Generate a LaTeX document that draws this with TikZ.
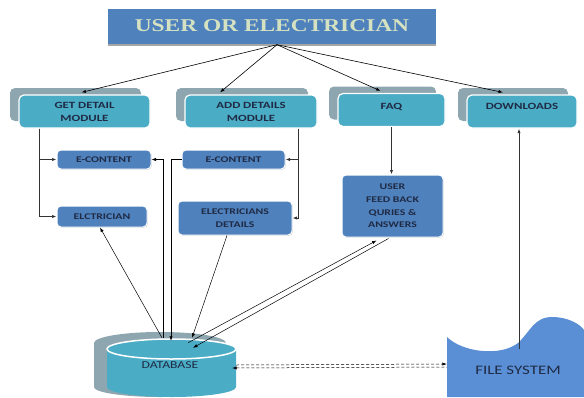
\documentclass[tikz,border=0pt]{standalone}
\usepackage{fontspec}
\setmainfont{Carlito}
\newfontfamily\titlefont[FakeStretch=1.3]{Liberation Serif}
\newfontfamily\boxfont[FakeStretch=1.35]{Carlito}
\usepackage{xcolor}
\usepackage{tikz}
\usetikzlibrary{shadows}
\usetikzlibrary{positioning}
\usetikzlibrary{arrows.meta}
\usetikzlibrary{calc}
\definecolor{topblue}{HTML}{4F81BD}
\definecolor{titlegreen}{HTML}{D5E2C2}
\definecolor{modteal}{HTML}{4BACC6}
\definecolor{shadowgray}{HTML}{8EA6AF}
\definecolor{boxblue}{HTML}{4F81BD}
\definecolor{navy}{HTML}{1F2A44}
\definecolor{fsblue}{HTML}{5A8FD5}
\tikzstyle{titlebox}=[rectangle,fill=topblue,text=titlegreen,inner sep=0pt,
  font=\titlefont\bfseries\fontsize{18}{20}\selectfont,
  drop shadow={shadow xshift=0pt,shadow yshift=-2.5pt,fill=black!35,opacity=1}]
\tikzstyle{module}=[rectangle,rounded corners=5pt,fill=modteal,draw=white,line width=1.2pt,
  text=navy,align=center,inner sep=0pt,font=\boxfont\bfseries\fontsize{9.5}{13}\selectfont,
  copy shadow={shadow xshift=-9pt,shadow yshift=7pt,fill=shadowgray,draw=none}]
\tikzstyle{subbox}=[rectangle,rounded corners=4pt,fill=boxblue,draw=white,line width=1pt,
  text=navy,align=center,inner sep=0pt,font=\boxfont\bfseries\fontsize{8.7}{12.7}\selectfont,
  drop shadow={shadow xshift=0.8pt,shadow yshift=-0.8pt,fill=black!30,opacity=0.6}]
\tikzstyle{edge} = [draw,line width=0.6pt,->]
\tikzstyle{branch} = [draw,line width=0.8pt,black!80,->]
\tikzstyle{dbline} = [draw,line width=0.5pt]
\tikzstyle{fsline} = [draw,line width=0.5pt,dashed,dash pattern=on 3pt off 2pt]

\begin{document}
\begin{tikzpicture}[x=1pt,y=-1pt,>={Latex[length=4.5pt,width=3.2pt]}]
    \useasboundingbox (0,0) rectangle (584,397);
    % top box
    \node[titlebox,minimum width=328pt,minimum height=35pt] (user) at (272,26) {USER OR ELECTRICIAN};

    % First we draw the modules
    \foreach \pos/\name/\bw/\label in {{(84.5,111.5)/getd/131/GET DETAIL\\MODULE},
    {(251,111.5)/addd/132/ADD DETAILS\\MODULE}, {(391.5,110)/faq/107/\raisebox{7pt}{FAQ}},
    {(522,111.5)/dl/110/\raisebox{10pt}{DOWNLOADS}}}
        \node[module,minimum width=\bw pt,minimum height=33pt] (\name) at \pos {\label};

    % the small boxes
    \foreach \pos/\name/\bw/\bh/\label in {{(104,159.5)/econa/94/19/E-CONTENT},
    {(102,216.5)/elct/90/21/ELCTRICIAN}, {(233.5,159.5)/econb/103/19/E-CONTENT},
    {(235,218)/eldet/114/34/ELECTRICIANS\\DETAILS}, {(392.5,206)/fb/101/62/USER\\FEED BACK\\QURIES \&\\ANSWERS}}
        \node[subbox,minimum width=\bw pt,minimum height=\bh pt] (\name) at \pos {\label};

    % database
    \fill[shadowgray] (94,343) arc (180:360:66 and 11) -- (226,387) arc (0:180:66 and 10) -- cycle;
    \fill[modteal] (107,349) -- (107,387) arc (180:0:64.5 and 10) -- (236,349) -- cycle;
    \draw[white,line width=1.5pt,fill=modteal] (171.5,349) ellipse (64.5 and 10);
    \node[inner sep=0pt,minimum width=129pt,minimum height=58pt] (db) at (171.5,368) {};
    \node[text=navy,font=\fontsize{10.5}{12}\selectfont\addfontfeature{FakeStretch=1.3}] (dbtext) at (170,365) {DATABASE};

    % file system
    \fill[fsblue] (447,337) .. controls (462,352) and (500,357) .. (518,343)
        .. controls (530,332) and (534,317) .. (552,317)
        .. controls (568,317) and (580,324) .. (584,330) -- (584,397) -- (447,397) -- cycle;
    \node[inner sep=0pt,minimum width=137pt,minimum height=60pt] (fs) at (515.5,367) {};
    \node[text=navy,font=\fontsize{13}{14}\selectfont\addfontfeature{FakeStretch=1.3}] (fstext) at (518,370) {FILE SYSTEM};
    \coordinate (fsdip) at (519,349);

    % Connect top box with the modules
    \foreach \dest/\dx in {getd/-3, addd/-31, faq/-11, dl/-19}
        \path[edge] ($(user.south)+(5,1)$) -- ($(\dest.north)+(\dx,-2)$);

    % branches of the modules
    \path[branch] ($(getd.south west)+(21,0)$) |- (econa.west);
    \path[branch] ($(getd.south west)+(21,0)$) |- (elct.west);
    \path[branch] ($(addd.south east)+(-19,0)$) |- (econb.east);
    \path[branch] ($(addd.south east)+(-19,0)$) |- (eldet.east);
    \path[branch] (faq.south) -- (faq.south |- fb.north);
    \path[branch] (fsdip) -- (fsdip |- dl.south);

    % lines to and from the database
    \path[dbline,->] ($(db.north)+(-9.5,-1)$) -- ($(elct.south)+(-2,0)$);
    \path[dbline,->] ($(db.north)+(-8.5,-1)$) |- (econa.east);
    \path[dbline,->] (econb.west) -| ($(db.north)+(-0.5,2)$);
    \path[dbline,->] ($(eldet.south)+(-8,0)$) -- ($(db.north)+(20.5,-1)$);
    \path[dbline,->] ($(db.north)+(16.5,4)$) -- ($(fb.south west)+(35,3)$);
    \path[dbline,->] ($(fb.south west)+(47,1)$) -- ($(db.north)+(21.5,9)$);
    \path[fsline,->] ($(db.east)+(0,-3)$) -- ($(fs.west)+(0,-3)$);
    \path[fsline,<-] ($(db.east)+(-4,0)$) -- (fs.west);
\end{tikzpicture}
\end{document}
